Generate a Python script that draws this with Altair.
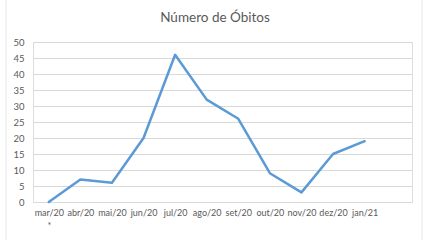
import altair as alt
import pandas as pd

months = ["mar/20", "abr/20", "mai/20", "jun/20", "jul/20", "ago/20",
          "set/20", "out/20", "nov/20", "dez/20", "jan/21"]
obitos = [0, 7, 6, 20, 46, 32, 26, 9, 3, 15, 19]
domain = months + ["_"]
y_ticks = [0, 5, 10, 15, 20, 25, 30, 35, 40, 45, 50]
title_text = ["Número de Óbitos"]

df = pd.DataFrame({"mes": months, "obitos": obitos})

FONT = "Lato"
GRAY = "#595959"

x = alt.X("mes:N", sort=domain,
          scale=alt.Scale(type="point", domain=domain, padding=0.5),
          axis=alt.Axis(title=None, domain=False, ticks=False, grid=False,
                        labelAngle=0, labelFont=FONT, labelFontSize=9,
                        labelColor=GRAY, labelPadding=6,
                        labelExpr="datum.value == '_' ? '' : (datum.value == 'mar/20' ? ['mar/20', '*'] : datum.value)",
                        labelLineHeight=13))
y = alt.Y("obitos:Q",
          scale=alt.Scale(domain=[0, 50], nice=False),
          axis=alt.Axis(title=None, domain=False, ticks=False, values=y_ticks,
                        gridColor="#D9D9D9", gridWidth=1,
                        labelFont=FONT, labelFontSize=9.5, labelColor=GRAY,
                        labelPadding=9))

line = alt.Chart(df).mark_line(color="#5B9BD5", strokeWidth=2.5,
                               strokeJoin="round", strokeCap="round").encode(x=x, y=y)

title = alt.Chart(pd.DataFrame({"t": title_text})).mark_text(
    font=FONT, fontSize=13.5, color=GRAY, align="center", baseline="middle").encode(
    text="t:N", x=alt.value(182), y=alt.value(-24))

border = alt.Chart(pd.DataFrame({"a": [0]})).mark_rule(
    color="#E6E6E6", strokeWidth=1).encode(
    x=alt.value(-27), y=alt.value(-45), y2=alt.value(200))
border2 = alt.Chart(pd.DataFrame({"a": [0]})).mark_rule(
    color="#E6E6E6", strokeWidth=1).encode(
    x=alt.value(389), y=alt.value(-45), y2=alt.value(200))

chart = alt.layer(line, title, border, border2).properties(
    width=379, height=160,
    autosize=alt.AutoSizeParams(type="none"),
    padding={"left": 33, "top": 42, "right": 18, "bottom": 38},
).configure_view(stroke=None).configure(background="white")

chart.save("out.html", embed_options={"renderer": "svg", "actions": False})
